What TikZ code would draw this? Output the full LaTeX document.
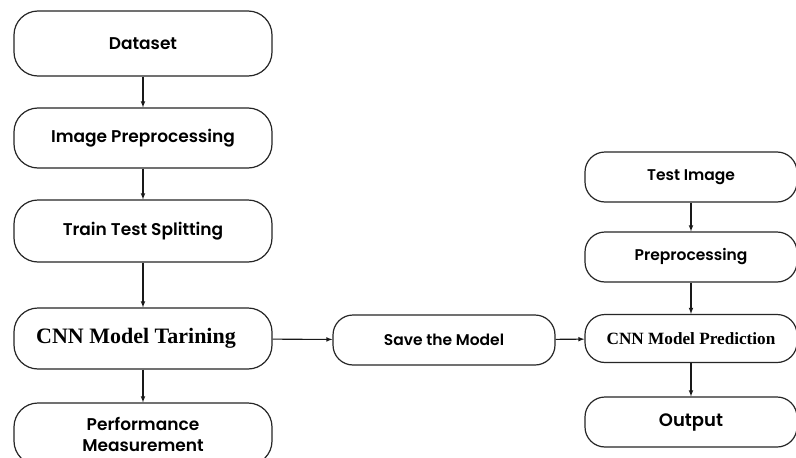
\documentclass[tikz,border=0pt]{standalone}
\usepackage{fontspec}
\setmainfont{Poppins}[BoldFont={Poppins SemiBold}]
\newfontfamily\timesbf{Liberation Serif}
\usepackage{tikz}
\usetikzlibrary{arrows,positioning}

\tikzset{
  stage/.style={draw=black!85, line width=1.2pt, rounded corners=24pt, fill=white,
    minimum width=258pt, minimum height=62pt, align=center, inner sep=0pt,
    font=\fontsize{17}{21}\selectfont\bfseries},
  teststage/.style={stage, rounded corners=20pt, minimum width=212pt, minimum height=50pt,
    font=\fontsize{15.5}{18}\selectfont\bfseries},
  flow/.style={draw=black!90, line width=1.1pt, -latex}
}

\begin{document}
\begin{tikzpicture}[x=1pt,y=-1pt]
\useasboundingbox (0,0) rectangle (796,458);
\fill[white] (0,0) rectangle (796,458);

% training side
\node[stage, minimum height=65pt] (data) at (143,43.5) {Dataset};
\node[stage, minimum height=60pt] (prep) at (143,138) {Image Preprocessing};
\node[stage] (split) at (143,231) {Train Test Splitting};
\node[stage, minimum height=61pt, font=\fontsize{22}{26}\selectfont\timesbf\bfseries] (train) at (143,338.5) {CNN Model Tarining\hspace*{14pt}};
\node[stage] (perf) at (143,434) {Performance\\Measurement};

\node[teststage, minimum width=222pt] (save) at (444,340) {Save the Model};

% testing side
\node[teststage] (timg) at (691,177) {Test Image};
\node[teststage] (tprep) at (691,257) {Preprocessing};
\node[teststage, minimum height=48pt, font=\fontsize{17.2}{20}\selectfont\timesbf\bfseries] (pred) at (691,338.5) {CNN Model Prediction};
\node[teststage, font=\fontsize{18}{21}\selectfont\bfseries] (out) at (691,422) {Output};

\draw[flow] (data) -- (prep);
\draw[flow] (prep) -- (split);
\draw[flow] (split) -- (train);
\draw[flow] (train) -- (perf);
\draw[flow] (train) -- (save);
\draw[flow] (save) -- (pred);
\draw[flow] (timg) -- (tprep);
\draw[flow] (tprep) -- (pred);
\draw[flow] (pred) -- (out);
\end{tikzpicture}
\end{document}
